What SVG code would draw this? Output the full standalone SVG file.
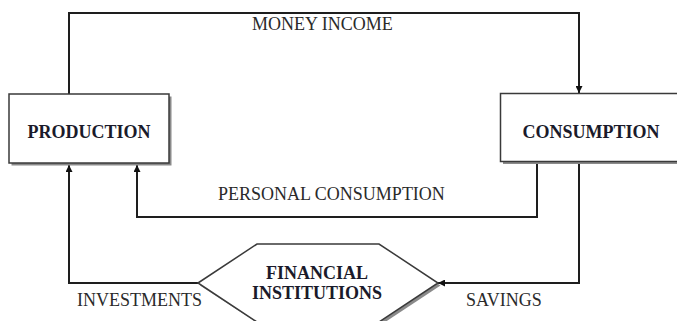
<svg xmlns="http://www.w3.org/2000/svg" width="677" height="321" viewBox="0 0 677 321">
<style>
.conn{fill:none;stroke:#1e1e1e;stroke-width:2}
.box{fill:#fff;stroke:#3a3a3a;stroke-width:1.5}
.shadow{fill:#8a8a8a;stroke:none}
.lbl{font-family:"Liberation Serif","Times New Roman",serif;font-size:18px;fill:#2a2a2a}
.node{font-family:"Liberation Serif","Times New Roman",serif;font-size:18px;font-weight:bold;fill:#1a1a2a;text-anchor:middle}
</style>
<defs>
<marker id="ah" viewBox="0 0 10 10" refX="10" refY="5" markerWidth="7" markerHeight="7" markerUnits="userSpaceOnUse" orient="auto">
<path d="M0,0 L10,5 L0,10 z" fill="#111"/>
</marker>
</defs>
<rect width="677" height="321" fill="#fff"/>
<g id="connectors">
<polyline class="conn" points="69,94 69,13 579,13 579,93" marker-end="url(#ah)"/>
<polyline class="conn" points="537,163 537,217 137,217 137,165" marker-end="url(#ah)"/>
<polyline class="conn" points="579,163 579,283 438,283" marker-end="url(#ah)"/>
<polyline class="conn" points="199,283 69,283 69,165" marker-end="url(#ah)"/>
</g>
<g id="production">
<rect class="shadow" x="11.5" y="96.5" width="160" height="69"/>
<rect class="box" x="9" y="94" width="160" height="69"/>
<text class="node" x="89" y="138">PRODUCTION</text>
</g>
<g id="consumption">
<rect class="shadow" x="503" y="96" width="185" height="68"/>
<rect class="box" x="500.5" y="93.5" width="185" height="68"/>
<text class="node" x="591" y="138">CONSUMPTION</text>
</g>
<g id="financial">
<polygon points="200,285.5 259.5,246.5 381.5,246.5 440.5,285.5 381.5,324.5 259.5,324.5" fill="#8a8a8a"/>
<polygon points="198,283 257,244 379,244 438,283 379,322 257,322" fill="#fff" stroke="#3a3a3a" stroke-width="1.5"/>
<text class="node" x="317" y="279">FINANCIAL</text>
<text class="node" x="317" y="299">INSTITUTIONS</text>
</g>
<g id="labels">
<text class="lbl" x="252" y="30">MONEY INCOME</text>
<text class="lbl" x="218" y="200">PERSONAL CONSUMPTION</text>
<text class="lbl" x="77" y="306">INVESTMENTS</text>
<text class="lbl" x="466" y="306">SAVINGS</text>
</g>
</svg>
